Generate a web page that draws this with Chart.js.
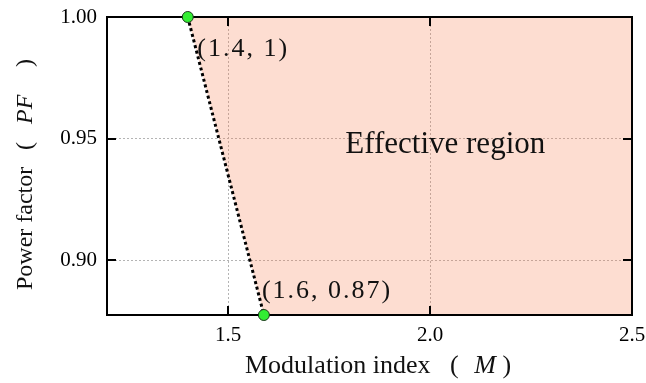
<!DOCTYPE html>
<html>
<head>
<meta charset="utf-8">
<script src="https://cdn.jsdelivr.net/npm/chart.js@4.4.1/dist/chart.umd.min.js"></script>
<style>
  html, body { margin: 0; padding: 0; background: #ffffff; }
  canvas { display: block; }
</style>
</head>
<body>
<canvas id="chart" width="646" height="383"></canvas>
<script>
// Boundary of the effective operating region, as (M, PF) vertices
const boundaryM = [1.4, 1.6];
const boundaryPF = [1.0, 0.87];

// Axis ranges and tick labels
const mRange = [1.2, 2.5];
const pfRange = [0.8775, 1.0];
const mTicks = [1.5, 2.0, 2.5];
const pfTicks = [0.90, 0.95, 1.00];

const regionLabel = 'Effective region';

const SERIF = '"Liberation Serif", "Times New Roman", serif';

// Region right of the boundary, filled up to the top of the PF axis
const regionPoints = [
  { x: boundaryM[0], y: boundaryPF[0] },
  { x: boundaryM[1], y: boundaryPF[1] },
  { x: mRange[1], y: boundaryPF[1] }
];

const boundaryPoints = boundaryM.map((m, i) => ({ x: m, y: boundaryPF[i] }));

// Vertex markers; a vertex below the visible PF range is marked where the boundary meets the frame
const markerPoints = boundaryPoints.map((p, i) => {
  if (p.y >= pfRange[0]) return { x: p.x, y: p.y };
  const q = boundaryPoints[i === 0 ? 1 : 0];
  const t = (pfRange[0] - q.y) / (p.y - q.y);
  return { x: q.x + t * (p.x - q.x), y: pfRange[0] };
});

const vertexLabels = boundaryM.map((m, i) => `(${m}, ${boundaryPF[i]})`);

// Draws a run of text pieces (some italic) with extra gaps given in em
function drawRich(ctx, parts, x, y, size) {
  let cx = x;
  for (const p of parts) {
    ctx.font = `${p.italic ? 'italic ' : ''}${size}px ${SERIF}`;
    cx += (p.gap || 0) * size;
    ctx.fillText(p.text, cx, y);
    cx += ctx.measureText(p.text).width;
  }
}

// Draws text with a fixed extra spacing between characters
function drawSpaced(ctx, text, x, y, spacing) {
  let cx = x;
  for (const ch of text) {
    ctx.fillText(ch, cx, y);
    cx += ctx.measureText(ch).width + spacing;
  }
}

// Plot box is placed by the layout padding and fixed axis sizes only
function fixBox(size, prop) {
  return s => {
    s[prop] = size;
    s.paddingLeft = 0; s.paddingRight = 0; s.paddingTop = 0; s.paddingBottom = 0;
  };
}

const framePlugin = {
  id: 'frameAndNotes',
  beforeDatasetDraw(chart, args) {
    if (args.index !== 2) return;
    const { ctx, chartArea: a, scales } = chart;
    ctx.save();
    ctx.strokeStyle = '#000';
    // inward tick marks on all four sides
    ctx.lineWidth = 2;
    const len = 9;
    ctx.beginPath();
    mTicks.forEach(v => {
      const px = Math.round(scales.x.getPixelForValue(v));
      if (px <= a.left + 1 || px >= a.right - 1) return;
      ctx.moveTo(px, a.bottom); ctx.lineTo(px, a.bottom - len);
      ctx.moveTo(px, a.top); ctx.lineTo(px, a.top + len);
    });
    pfTicks.forEach(v => {
      const py = Math.round(scales.y.getPixelForValue(v));
      if (py <= a.top + 1 || py >= a.bottom - 1) return;
      ctx.moveTo(a.left, py); ctx.lineTo(a.left + len, py);
      ctx.moveTo(a.right, py); ctx.lineTo(a.right - len, py);
    });
    ctx.stroke();
    // axes frame
    ctx.lineWidth = 2;
    ctx.strokeRect(a.left, a.top, a.right - a.left, a.bottom - a.top);
    ctx.restore();
  },
  afterDraw(chart) {
    const { ctx, scales } = chart;
    ctx.save();
    ctx.fillStyle = '#111';
    ctx.textBaseline = 'alphabetic';
    ctx.textAlign = 'left';

    // region annotation
    ctx.font = `31px ${SERIF}`;
    ctx.fillText(regionLabel, scales.x.getPixelForValue(1.79), scales.y.getPixelForValue(0.944));

    // vertex coordinate labels
    ctx.font = `26px ${SERIF}`;
    const offsets = [[9.5, 39], [-2, -17]];
    markerPoints.forEach((p, i) => {
      const px = scales.x.getPixelForValue(p.x) + offsets[i][0];
      const py = scales.y.getPixelForValue(p.y) + offsets[i][1];
      drawSpaced(ctx, vertexLabels[i], px, py, 2);
    });

    // x axis title
    drawRich(ctx, [
      { text: 'Modulation index' },
      { text: '(', gap: 0.75 },
      { text: 'M', italic: true, gap: 0.6 },
      { text: ')', gap: 0.25 }
    ], 245, 373, 26);

    // y axis title (rotated)
    ctx.translate(32, 290);
    ctx.rotate(-Math.PI / 2);
    drawRich(ctx, [
      { text: 'Power factor' },
      { text: '(', gap: 0.7 },
      { text: 'PF', italic: true, gap: 0.75 },
      { text: ')', gap: 1.15 }
    ], 0, 0, 24);
    ctx.restore();
  }
};

const tickFont = { family: SERIF, size: 21 };

new Chart(document.getElementById('chart'), {
  type: 'scatter',
  data: {
    datasets: [
      {
        data: regionPoints,
        showLine: true,
        borderWidth: 0,
        pointRadius: 0,
        fill: 'end',
        backgroundColor: 'rgba(248, 120, 70, 0.25)',
        order: 3
      },
      {
        data: boundaryPoints,
        showLine: true,
        borderColor: '#000',
        borderWidth: 3,
        borderDash: [3, 2.8],
        pointRadius: 0,
        fill: false,
        order: 2
      },
      {
        data: markerPoints,
        showLine: false,
        pointRadius: 5.5,
        pointBackgroundColor: '#33ee33',
        pointBorderColor: '#1c3a1c',
        pointBorderWidth: 1,
        clip: false,
        order: 1
      }
    ]
  },
  options: {
    responsive: false,
    animation: false,
    devicePixelRatio: 1,
    events: [],
    layout: { autoPadding: false, padding: { top: 17, right: 14, left: 0, bottom: 0 } },
    plugins: { legend: { display: false }, tooltip: { enabled: false } },
    scales: {
      x: {
        type: 'linear',
        min: mRange[0],
        max: mRange[1],
        afterBuildTicks: s => { s.ticks = mTicks.map(v => ({ value: v })); },
        afterFit: fixBox(68, 'height'),
        ticks: { callback: v => v.toFixed(1), font: tickFont, color: '#000', padding: 8, maxRotation: 0 },
        grid: { drawTicks: false, color: '#b4b4b4', lineWidth: 1 },
        border: { display: false, dash: [2, 2] }
      },
      y: {
        type: 'linear',
        min: pfRange[0],
        max: pfRange[1],
        afterBuildTicks: s => { s.ticks = pfTicks.map(v => ({ value: v })); },
        afterFit: fixBox(107, 'width'),
        ticks: { callback: v => v.toFixed(2), font: tickFont, color: '#000', padding: 10 },
        grid: { drawTicks: false, color: '#b4b4b4', lineWidth: 1 },
        border: { display: false, dash: [2, 2] }
      }
    }
  },
  plugins: [framePlugin]
});
</script>
</body>
</html>
